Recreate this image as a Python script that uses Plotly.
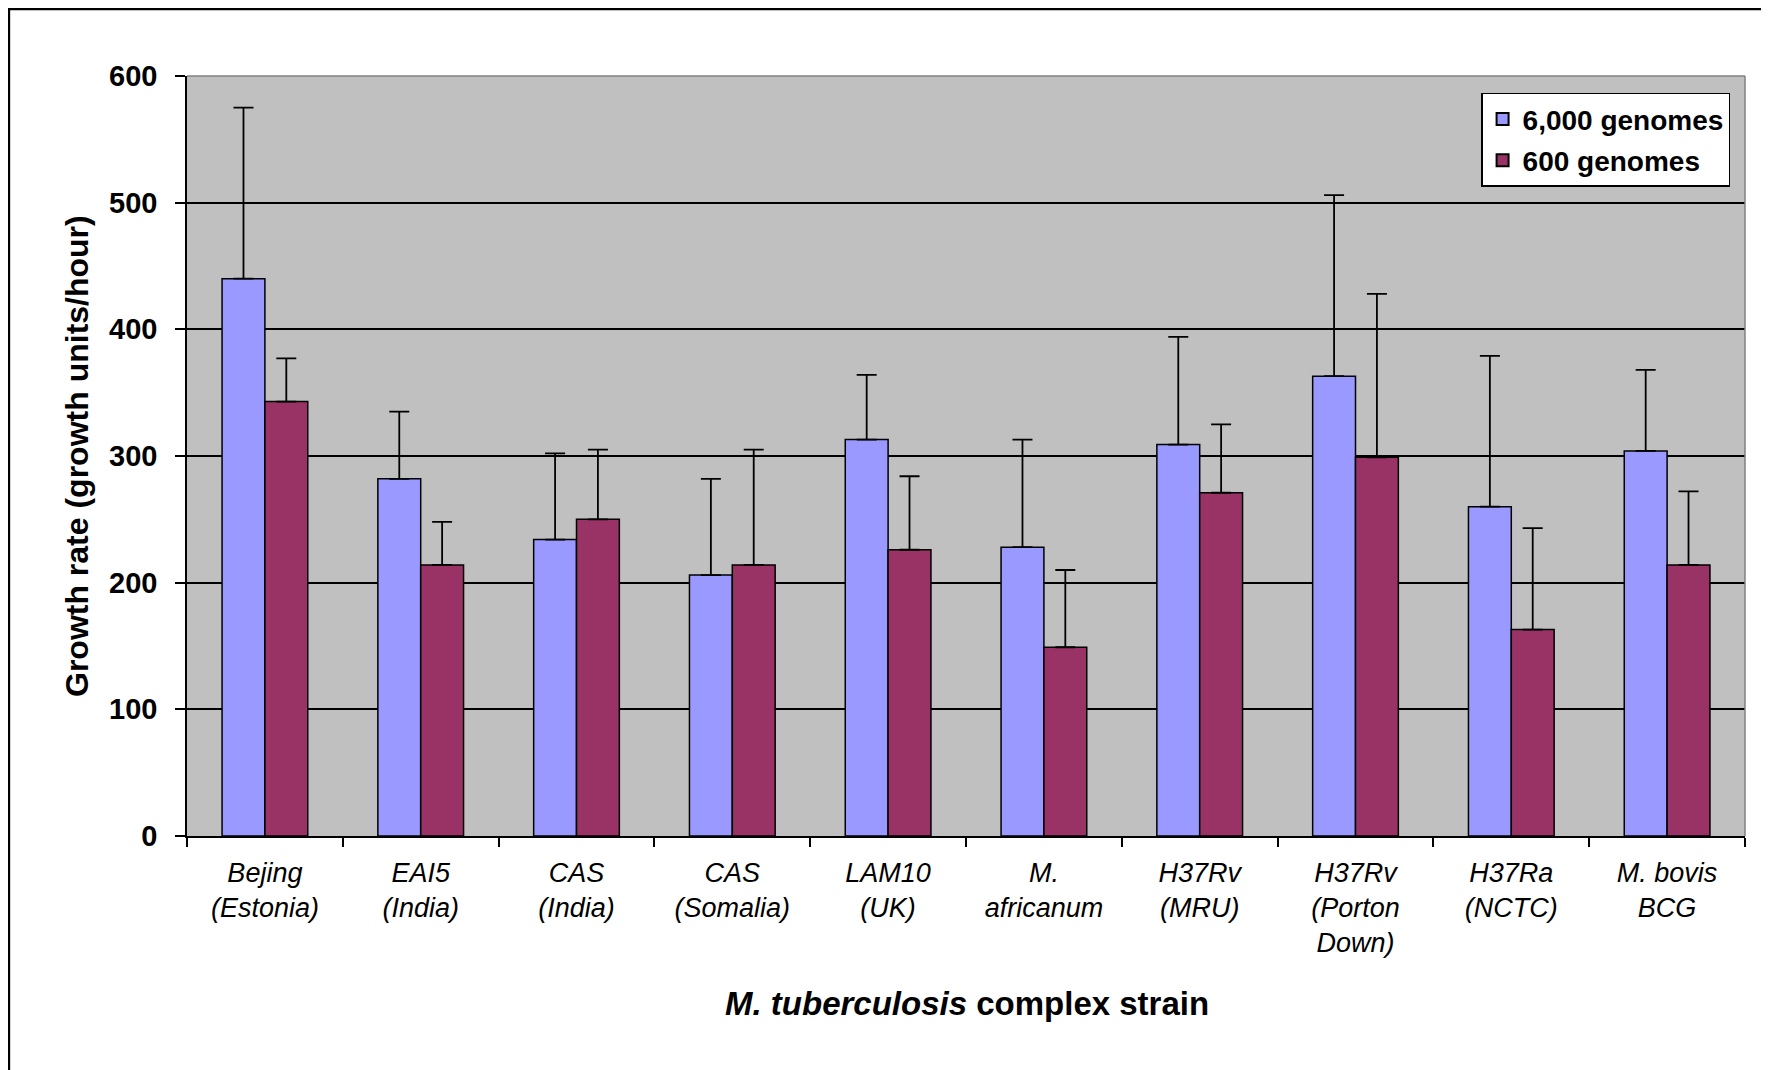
import plotly.graph_objects as go

categories = ["Bejing<br>(Estonia)", "EAI5<br>(India)", "CAS<br>(India)", "CAS<br>(Somalia)",
              "LAM10<br>(UK)", "M.<br>africanum", "H37Rv<br>(MRU)", "H37Rv<br>(Porton<br>Down)",
              "H37Ra<br>(NCTC)", "M. bovis<br>BCG"]
series_names = ["6,000 genomes", "600 genomes"]
vals_6000 = [440, 282, 234, 206, 313, 228, 309, 363, 260, 304]
err_6000 = [575, 335, 302, 282, 364, 313, 394, 506, 379, 368]
vals_600 = [343, 214, 250, 214, 226, 149, 271, 299, 163, 214]
err_600 = [377, 248, 305, 305, 284, 210, 325, 428, 243, 272]
y_ticks = [0, 100, 200, 300, 400, 500, 600]

colors = ["#9999FF", "#993366"]
labels = ["<i>" + c.replace("<br>", "</i><br><i>") + "</i>" for c in categories]

fig = go.Figure()
for i, (name, vals, tops, col) in enumerate([(series_names[0], vals_6000, err_6000, colors[0]),
                                             (series_names[1], vals_600, err_600, colors[1])]):
    fig.add_trace(go.Bar(
        x=labels, y=vals, name=name, legendgroup="g%d" % i,
        marker=dict(color=col, line=dict(color="black", width=1.5)),
        error_y=dict(type="data", symmetric=False,
                     array=[t - v for t, v in zip(tops, vals)],
                     arrayminus=[0] * len(vals),
                     color="black", thickness=1.8, width=10),
    ))

fig.update_layout(
    width=1769, height=1070,
    margin=dict(l=179, r=32, t=68, b=242),
    paper_bgcolor="white", plot_bgcolor="#C0C0C0",
    barmode="group", bargap=0.45, bargroupgap=0.0,
    font=dict(family="Liberation Sans", color="black"),
    showlegend=True,
    legend=dict(x=0.8306, y=0.978, xanchor="left", yanchor="top",
                bgcolor="white", bordercolor="black", borderwidth=1.5,
                font=dict(size=28, weight="bold", family="Liberation Sans"),
                itemsizing="constant", tracegroupgap=2, itemwidth=30),
)
fig.update_xaxes(
    type="category", tickson="boundaries", ticks="outside", ticklen=9,
    tickcolor="black", tickwidth=1.5, showline=True, linecolor="black", linewidth=1.5,
    showgrid=False, tickfont=dict(size=27, family="Liberation Sans"),
    ticklabelstandoff=12,
)
fig.update_yaxes(
    range=[0, 600], tickvals=y_ticks, ticks="outside", ticklen=10,
    tickcolor="black", tickwidth=1.5, showline=True, linecolor="black", linewidth=1.5,
    showgrid=True, gridcolor="black", gridwidth=1.5, zeroline=False,
    tickfont=dict(size=29, weight="bold", family="Liberation Sans"),
    ticklabelstandoff=12,
)

# gray border on top/right edges of plot area
fig.add_shape(type="line", xref="paper", yref="paper", x0=0, x1=1, y0=1, y1=1,
              line=dict(color="#808080", width=1.5))
fig.add_shape(type="line", xref="paper", yref="paper", x0=1, x1=1, y0=0, y1=1,
              line=dict(color="#808080", width=1.5))
# outer frame (top and left edges visible)
fig.add_shape(type="rect", xref="paper", yref="paper",
              x0=-0.1142, x1=1.03, y0=-0.32, y1=1.088,
              line=dict(color="black", width=2.2), layer="below")

fig.add_annotation(text="<b>Growth rate (growth units/hour)</b>", textangle=-90,
                   xref="paper", yref="paper", x=-0.0706, y=0.5,
                   xanchor="center", yanchor="middle", showarrow=False,
                   font=dict(size=32, family="Liberation Sans"))
fig.add_annotation(text="<b><i>M. tuberculosis</i> complex strain</b>",
                   xref="paper", yref="paper", x=0.5006, y=-0.221,
                   xanchor="center", yanchor="middle", showarrow=False,
                   font=dict(size=33, family="Liberation Sans"))

fig.write_html("out.html")
